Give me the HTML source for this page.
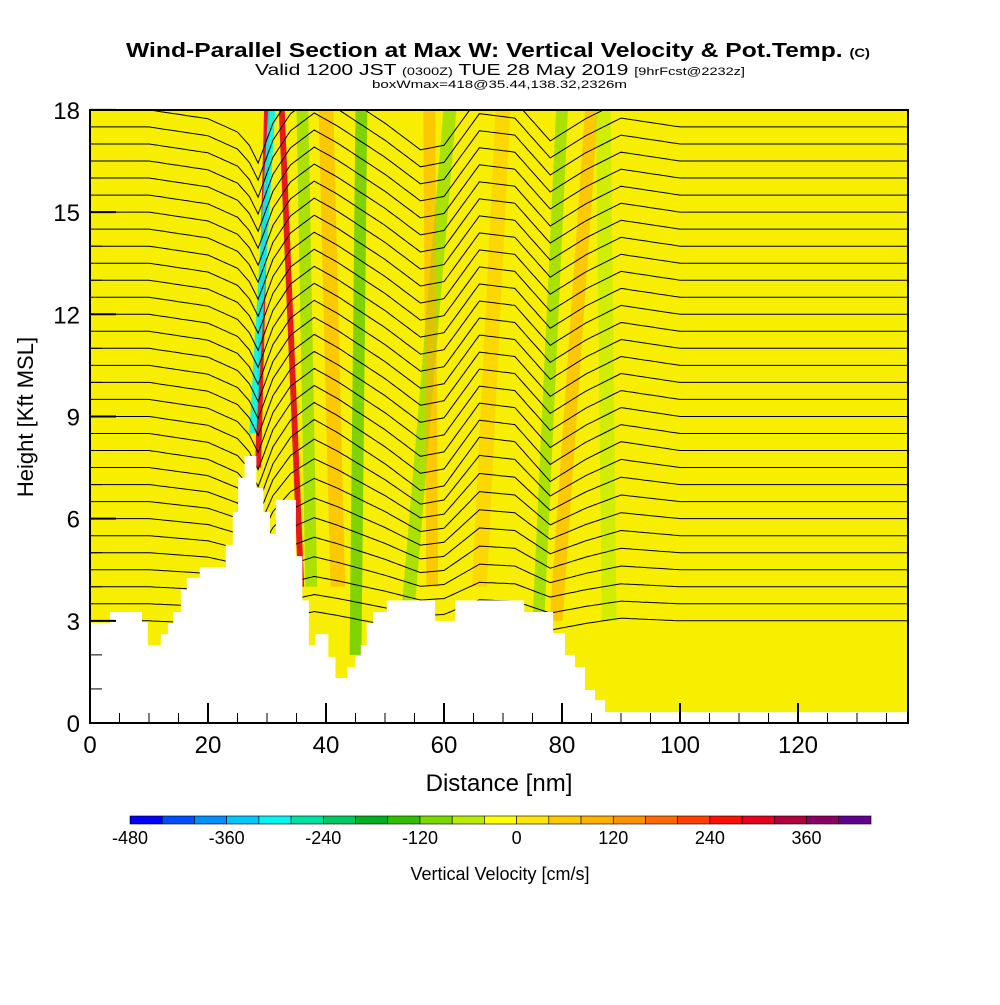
<!DOCTYPE html>
<html><head><meta charset="utf-8"><style>
body{margin:0;background:#fff;font-family:"Liberation Sans",sans-serif}
svg text{font-family:"Liberation Sans",sans-serif}
</style></head><body>
<svg id="s" width="1000" height="1000" xmlns="http://www.w3.org/2000/svg">
<g id="plot"></g>
<text x="126" y="57" font-size="20" font-weight="bold" textLength="744" lengthAdjust="spacingAndGlyphs">Wind-Parallel Section at Max W: Vertical Velocity &amp; Pot.Temp. <tspan font-size="12">(C)</tspan></text>
<text x="255" y="75" font-size="16" textLength="490" lengthAdjust="spacingAndGlyphs">Valid 1200 JST <tspan font-size="11">(0300Z)</tspan> TUE 28 May 2019 <tspan font-size="11">[9hrFcst@2232z]</tspan></text>
<text x="372" y="88" font-size="11" textLength="255" lengthAdjust="spacingAndGlyphs">boxWmax=418@35.44,138.32,2326m</text>
<text x="0" y="0" transform="translate(33,417) rotate(-90)" text-anchor="middle" font-size="22">Height [Kft MSL]</text>
<text x="499" y="791" text-anchor="middle" font-size="24">Distance [nm]</text>
<g id="cbar"></g>
<text x="500" y="880" text-anchor="middle" font-size="18">Vertical Velocity [cm/s]</text>
</svg>
<script>
const terrainNm=[0,3.4,8.8,9.8,12.0,13.2,14.1,15.4,16.4,18.6,23.0,24.2,25.1,26.2,28.2,29.4,30.5,31.5,34.9,36.0,37.1,38.2,40.4,41.6,43.6,44.9,45.9,46.9,48.0,50.3,58.5,61.9,73.6,78.5,80.5,82.2,83.9,85.6,87.3];
const terrainKft=[2.94,3.26,2.96,2.29,2.61,2.94,3.26,3.9,4.26,4.58,5.23,6.2,7.2,7.84,6.9,6.2,5.55,6.55,4.9,3.6,2.29,2.61,1.94,1.32,1.64,1.97,2.29,2.94,3.26,3.6,3.0,3.6,3.26,2.64,2.0,1.64,0.97,0.67,0.32];
const dispNm=[0,10,20,25,27,28.5,31,34,38,42,50,56,60,66,72,78,84,90,100,139];
const dispKft=[0,0,-0.2,-0.5,-0.8,-1.2,-0.3,0.3,0.7,0.4,-0.3,-0.9,-0.8,0.3,0.2,-0.7,-0.2,0.2,0,0];
const stripeBot=[28.5,27.6,35.8,37.5,45,54,58,76,79,42,66,88];
const stripeBotK=[7.5,8.5,4,4,2,3.5,4,3,3,4,4,3];
const stripeTop=[30,30.8,32.5,36,46,61,57.5,80,85,40,70,87];
const stripeW=[1.0,1.2,1.0,2.0,2.0,2.2,2.0,2.0,2.2,2.5,2.5,2.5];
const stripeVal=[300,-300,300,-90,-130,-110,110,-120,90,90,60,-50];
const cbColors=["#0000ff","#0050ff","#0090ff","#00c8ff","#00f5f0","#00e0a0","#00c860","#00b020","#30c000","#78d800","#b8ec00","#ffff00","#ffe600","#ffc800","#ffb000","#ff9000","#ff6a00","#ff4000","#ff1000","#e6001e","#b4003c","#8c0064","#640090"];
const cbTicks=[-480,-360,-240,-120,0,120,240,360];
const xTicks=[0,20,40,60,80,100,120];
const yTicks=[0,3,6,9,12,15,18];
const NS="http://www.w3.org/2000/svg";
const X=n=>90+n*5.9, Y=k=>723-k*34.06;
const col=v=>cbColors[Math.max(0,Math.min(22,Math.floor((v+480)/40)))];
function mk(t,a,p){const e=document.createElementNS(NS,t);for(const k in a)e.setAttribute(k,a[k]);p.appendChild(e);return e;}
const P=document.getElementById('plot');
let bg=mk('rect',{x:90,y:110,width:818,height:613,fill:'#f8ee00'},P);


for(let i=0;i<stripeBot.length;i++){
 const w=stripeW[i]/2,yb=Y(stripeBotK[i]);
 const pts=[[X(stripeBot[i]-w),yb],[X(stripeBot[i]+w),yb],[X(stripeTop[i]+w),110],[X(stripeTop[i]-w),110]];
 const e=mk('polygon',{points:pts.map(p=>p.join(',')).join(' '),fill:col(stripeVal[i]),opacity:Math.abs(stripeVal[i])>200?0.9:0.6},P);
 
 
}
function disp(n){for(let i=0;i<dispNm.length-1;i++){if(n>=dispNm[i]&&n<=dispNm[i+1]){const t=(n-dispNm[i])/(dispNm[i+1]-dispNm[i]);return dispKft[i]+t*(dispKft[i+1]-dispKft[i]);}}return 0;}
for(let b=3.0;b<=18.3;b+=0.5){
 let d='';
 for(let n=0;n<=138.6;n+=0.5){
  const f=Math.min(1,Math.max(0.3,(b-2)/6));
  const k=b+disp(n)*f*1.3;
  d+=(n?'L':'M')+X(n).toFixed(1)+','+Y(k).toFixed(1);
 }
 const e=mk('path',{d:d,fill:'none',stroke:'#000','stroke-width':1},P);
 
 
}
let td='M'+X(0)+','+Y(0);
for(let i=0;i<terrainNm.length;i++){const x1=X(terrainNm[i]),x2=i<terrainNm.length-1?X(terrainNm[i+1]):908;td+='L'+x1+','+Y(terrainKft[i])+'L'+x2+','+Y(terrainKft[i]);}
td+='L908,'+Y(0)+'Z';
const te=mk('path',{d:td,fill:'#fff'},P);


mk('rect',{x:0,y:0,width:90,height:1000,fill:'#fff'},P);
mk('rect',{x:908,y:0,width:92,height:1000,fill:'#fff'},P);
mk('rect',{x:0,y:0,width:1000,height:110,fill:'#fff'},P);
const fr=mk('rect',{x:90,y:110,width:818,height:613,fill:'none',stroke:'#000','stroke-width':2},P);


for(let n=0;n<=135;n+=5){const maj=n%20==0;mk('line',{x1:X(n),x2:X(n),y1:723,y2:723-(maj?20:10),stroke:'#000','stroke-width':maj?2:1},P);}
for(let k=0;k<=18;k++){const maj=k%3==0;mk('line',{x1:90,x2:90+(maj?26:12),y1:Y(k),y2:Y(k),stroke:'#000','stroke-width':maj?2:1},P);}
xTicks.forEach(n=>{const t=mk('text',{x:X(n),y:753,'text-anchor':'middle','font-size':24},P);t.textContent=n;
 
 });
yTicks.forEach(k=>{const t=mk('text',{x:80,y:Y(k)+9,'text-anchor':'end','font-size':24},P);t.textContent=k;
 
 });
const C=document.getElementById('cbar');const bw=741/23;
cbColors.forEach((c,i)=>{const r=mk('rect',{x:130+i*bw,y:816,width:bw,height:8,fill:c,stroke:'#000','stroke-width':0.6},C);
 
 });
cbTicks.forEach(v=>{const t=mk('text',{x:130+(v+480)/40*bw,y:844,'text-anchor':'middle','font-size':18},C);t.textContent=v;
 
 });
</script>
</body></html>
